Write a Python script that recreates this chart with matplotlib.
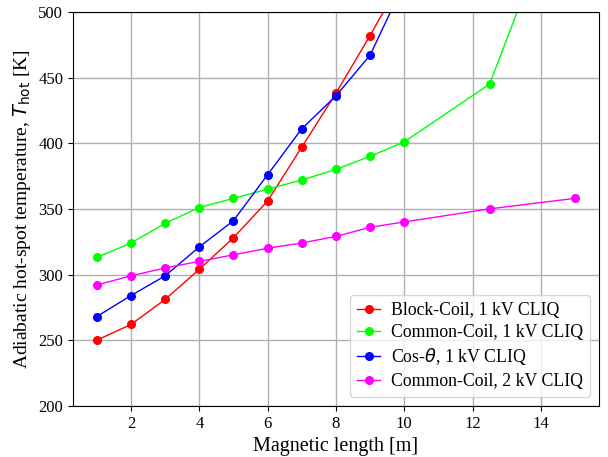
import matplotlib
matplotlib.use("Agg")
import matplotlib.pyplot as plt

plt.rcParams['font.family'] = ['Liberation Serif', 'DejaVu Serif']

# Magnetic length [m]
x_block = [1, 2, 3, 4, 5, 6, 7, 8, 9, 10]
x_common = [1, 2, 3, 4, 5, 6, 7, 8, 9, 10, 12.5, 15]
x_cos = [1, 2, 3, 4, 5, 6, 7, 8, 9, 10]
x_common2 = [1, 2, 3, 4, 5, 6, 7, 8, 9, 10, 12.5, 15]

# Hot-spot temperature [K]
t_block = [250, 262, 281, 304, 328, 356, 397, 438, 482, 528]
t_common = [313, 324, 339, 351, 358, 365, 372, 380, 390, 401, 445, 615]
t_cos = [268, 284, 299, 321, 341, 376, 411, 436, 467, 522]
t_common2 = [292, 299, 305, 310, 315, 320, 324, 329, 336, 340, 350, 358]

labels = ['Block-Coil, 1 kV CLIQ', 'Common-Coil, 1 kV CLIQ',
          r'Cos-$\theta$, 1 kV CLIQ', 'Common-Coil, 2 kV CLIQ']
colors = ['#ff0000', '#00ff00', '#0000ff', '#ff00ff']

fig = plt.figure(figsize=(6.08, 4.57), dpi=100)
ax = fig.add_axes([0.12, 0.112, 0.865, 0.862])

series = [(x_block, t_block), (x_common, t_common), (x_cos, t_cos), (x_common2, t_common2)]
for (xs, ys), lab, c in zip(series, labels, colors):
    ax.plot(xs, ys, '-o', color=c, label=lab, linewidth=1, markersize=5.5)

ax.set_ylim(200, 500)
ax.set_xticks([2, 4, 6, 8, 10, 12, 14])
ax.grid(True, color='#b0b0b0', linewidth=1)
ax.tick_params(labelsize=12)
ax.set_xlabel('Magnetic length [m]', fontsize=14.5)
ax.set_ylabel(r'Adiabatic hot-spot temperature, $T_{\mathrm{hot}}$ [K]', fontsize=14)
ax.legend(loc='lower right', fontsize=12.8, handlelength=1.3, handletextpad=0.6,
          borderpad=0.4, labelspacing=0.3, borderaxespad=0.5)

fig.savefig('out.png', dpi=100)
